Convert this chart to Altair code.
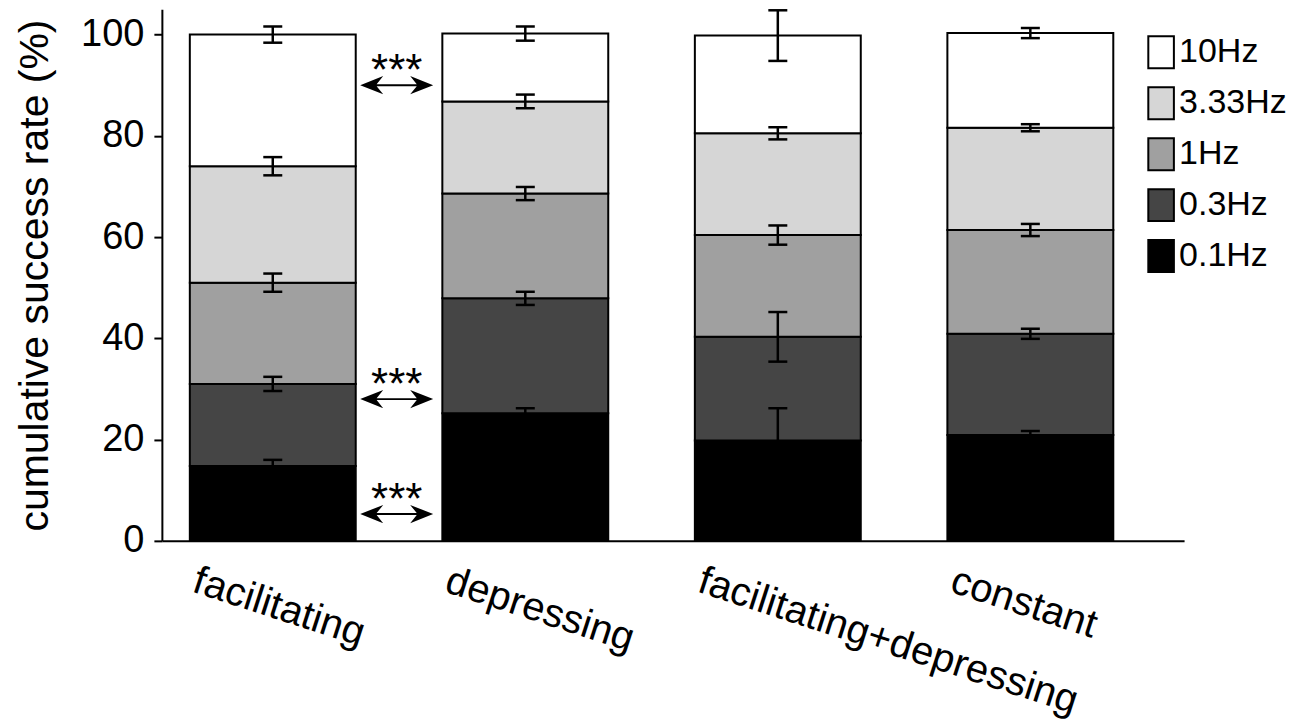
import altair as alt
import pandas as pd

FONT = "Liberation Sans"

# ---- data ----
groups = ["facilitating", "depressing", "facilitating+depressing", "constant"]
freqs = ["0.1Hz", "0.3Hz", "1Hz", "3.33Hz", "10Hz"]          # bottom -> top of stack

# cumulative success rate (%) at the top of each segment
cum_facilitating = [14.8, 31.0, 51.0, 74.0, 100.0]
cum_depressing = [25.2, 47.9, 68.6, 86.8, 100.2]
cum_facdep = [19.8, 40.3, 60.4, 80.5, 99.8]
cum_constant = [20.9, 40.9, 61.4, 81.6, 100.3]

# error (+/-) at the top of each segment
err_facilitating = [1.2, 1.4, 1.8, 1.8, 1.6]
err_depressing = [1.0, 1.3, 1.3, 1.35, 1.4]
err_facdep = [6.4, 4.9, 1.9, 1.2, 5.0]
err_constant = [0.8, 1.0, 1.2, 0.7, 1.0]

legend_order = ["10Hz", "3.33Hz", "1Hz", "0.3Hz", "0.1Hz"]
legend_colors = ["#ffffff", "#d6d6d6", "#a0a0a0", "#454545", "#000000"]

sig_levels = [90.0, 28.0, 5.3]        # heights of the significance arrows
sig_label = "***"
y_ticks = [0, 20, 40, 60, 80, 100]
y_title = "cumulative success rate (%)"

# ---- tables ----
rows = []
for g, cum, err in zip(groups,
                       [cum_facilitating, cum_depressing, cum_facdep, cum_constant],
                       [err_facilitating, err_depressing, err_facdep, err_constant]):
    prev = 0.0
    for f, top, e in zip(freqs, cum, err):
        rows.append(dict(group=g, freq=f, bottom=prev, top=top, lo=top - e, hi=top + e))
        prev = top
df = pd.DataFrame(rows)
sig_df = pd.DataFrame({"group": [groups[0]] * len(sig_levels),
                       "y": sig_levels,
                       "label": [sig_label] * len(sig_levels)})

# ---- scales / encodings ----
x_scale = alt.Scale(paddingInner=0.343, paddingOuter=0.1955, align=0.283)
y_scale = alt.Scale(domain=[0, 105], nice=False)

x_axis = alt.Axis(title=None, ticks=False, grid=False, domainColor="black", domainWidth=2,
                  labelAngle=18, labelAlign="left", labelBaseline="alphabetic",
                  labelOffset=-82, labelPadding=50, labelFontSize=40, labelFont=FONT,
                  labelColor="black", labelLimit=0)
y_axis = alt.Axis(values=y_ticks, title=y_title, grid=False,
                  tickSize=8, tickWidth=2, tickColor="black", domainColor="black",
                  domainWidth=2, labelFontSize=38, labelFont=FONT, labelColor="black",
                  labelPadding=10, titleFontSize=41, titleFont=FONT,
                  titleFontWeight="normal", titleColor="black", titlePadding=24)


def xenc(**kw):
    return alt.X("group:N", sort=groups, scale=x_scale, axis=x_axis, **kw)


def yenc(field):
    return alt.Y(field, scale=y_scale, axis=y_axis, title=y_title)


rect_path = "M-0.8,-1L0.8,-1L0.8,1L-0.8,1Z"
arrow_path = ("M-1,0L-0.37,-0.25L-0.55,-0.025L0.55,-0.025L0.37,-0.25L1,0"
              "L0.37,0.25L0.55,0.025L-0.55,0.025L-0.37,0.25Z")

bars = alt.Chart(df).mark_bar(stroke="black", strokeWidth=2).encode(
    x=xenc(),
    y=yenc("bottom:Q"),
    y2="top:Q",
    color=alt.Color("freq:N",
                    scale=alt.Scale(domain=legend_order, range=legend_colors),
                    legend=alt.Legend(title=None, orient="none", legendX=983, legendY=26,
                                      symbolType=rect_path, symbolSize=1024,
                                      symbolStrokeColor="black", symbolStrokeWidth=2,
                                      symbolOpacity=1, labelFontSize=34, labelFont=FONT,
                                      labelColor="black", labelOffset=1, rowPadding=11,
                                      padding=0)),
)

err_rule = alt.Chart(df).mark_rule(color="black", strokeWidth=2.5).encode(
    x=xenc(), y=yenc("lo:Q"), y2="hi:Q")
cap_lo = alt.Chart(df).mark_tick(color="black", size=19, thickness=2.5, opacity=1).encode(
    x=xenc(), y=yenc("lo:Q"))
cap_hi = alt.Chart(df).mark_tick(color="black", size=19, thickness=2.5, opacity=1).encode(
    x=xenc(), y=yenc("hi:Q"))

arrows = alt.Chart(sig_df).mark_point(shape=arrow_path, filled=True, size=5329,
                                      color="black", opacity=1, strokeWidth=0,
                                      xOffset=41).encode(
    x=xenc(bandPosition=1), y=yenc("y:Q"))
stars = alt.Chart(sig_df).mark_text(fontSize=44, font=FONT, color="black",
                                    baseline="alphabetic", align="center", dx=41).encode(
    x=xenc(bandPosition=1), y=yenc("y:Q"), text="label:N")

chart = alt.layer(bars, err_rule, cap_lo, cap_hi, arrows, stars).properties(
    width=1023, height=532,
    padding={"left": 6, "top": 0, "right": 0, "bottom": 0},
).configure_view(stroke=None)

chart.save("out.html", embed_options={"renderer": "svg", "actions": False})
